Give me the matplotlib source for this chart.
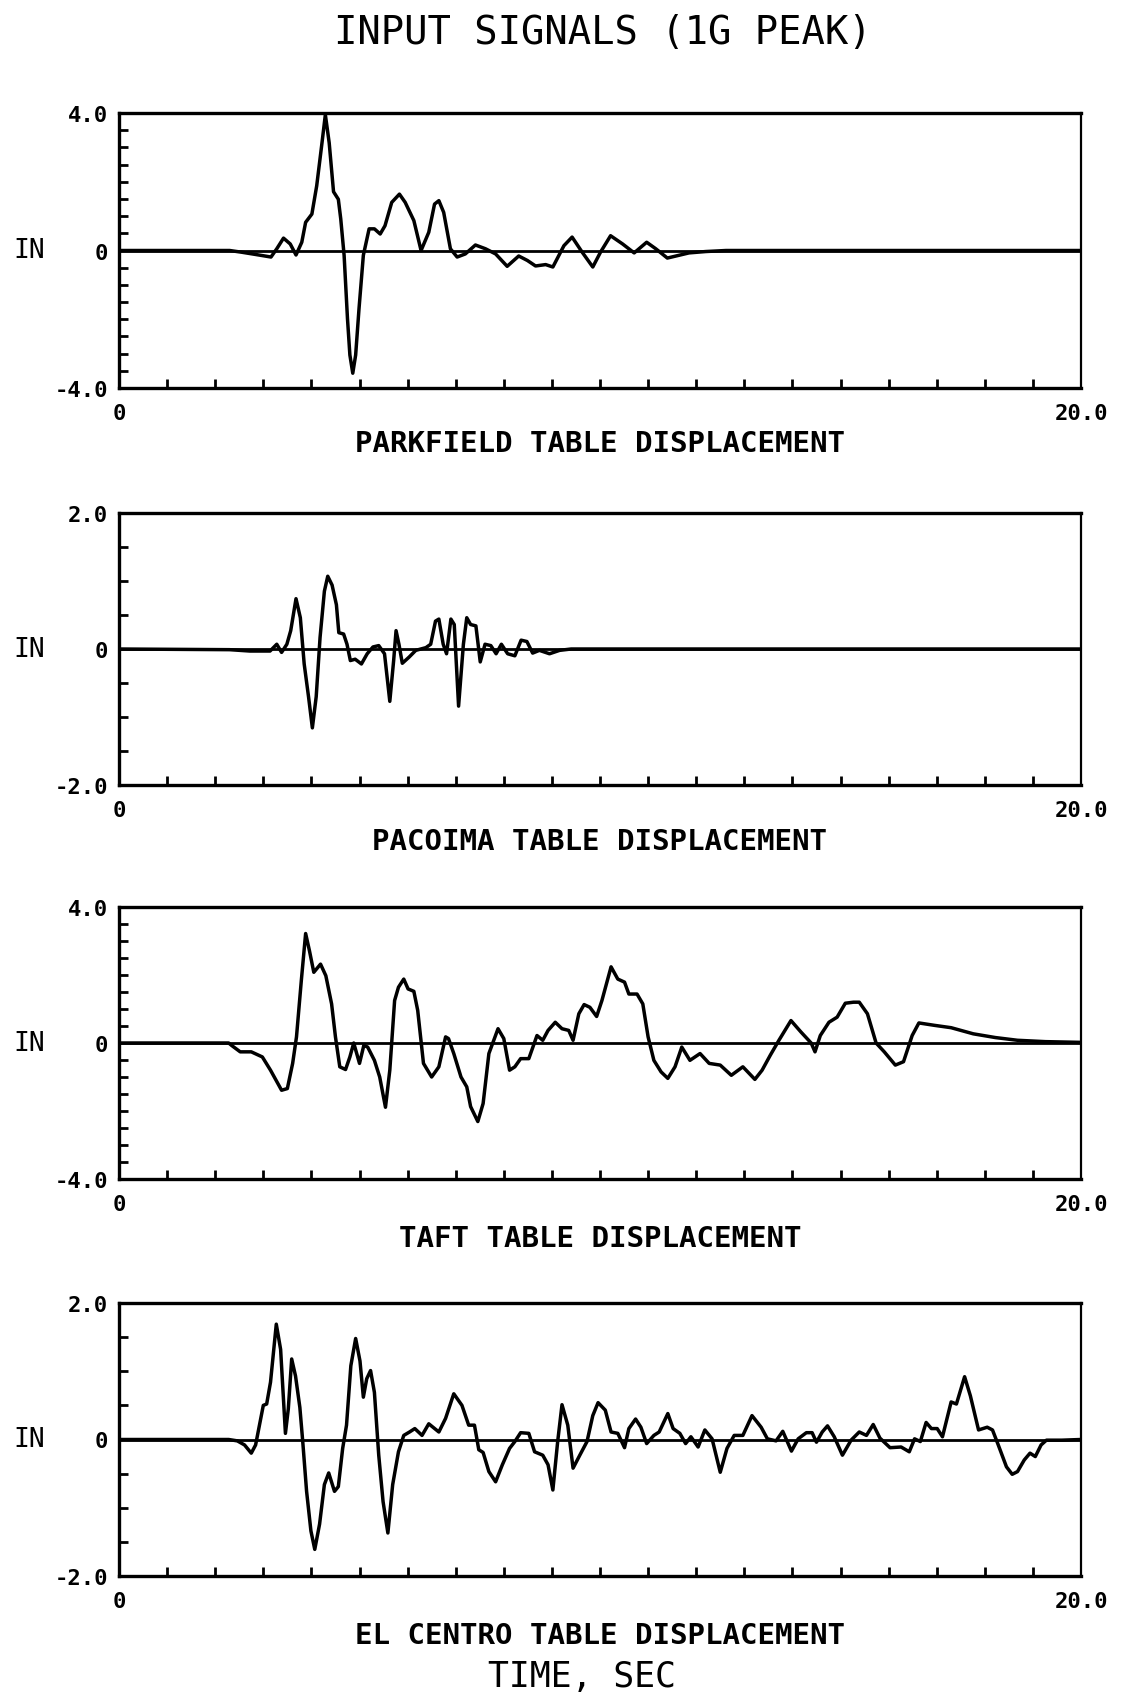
import numpy as np
import matplotlib
matplotlib.use('Agg')
from matplotlib import pyplot as plt
from matplotlib.transforms import blended_transform_factory

plt.rcParams['font.family'] = ['DejaVu Sans Mono']

# table displacement records, time in sec, displacement in inches
parkfield_t = [0.0, 2.30, 2.55, 2.86, 3.16, 3.28, 3.42, 3.56, 3.68, 3.80, 3.88, 4.01, 4.11, 4.22,
               4.29, 4.37, 4.46, 4.56, 4.61, 4.68, 4.75, 4.80, 4.86, 4.92, 4.99, 5.08, 5.20, 5.31,
               5.43, 5.53, 5.67, 5.83, 5.95, 6.13, 6.28, 6.44, 6.56, 6.65, 6.75, 6.89, 7.03, 7.20,
               7.41, 7.62, 7.83, 8.07, 8.31, 8.49, 8.66, 8.87, 9.02, 9.25, 9.42, 9.63, 9.85, 10.01,
               10.22, 10.47, 10.71, 10.97, 11.16, 11.40, 11.58, 11.85, 12.20, 12.62, 20.0]
parkfield_in = [0.0, 0.0, -0.05, -0.12, -0.19, 0.05, 0.36, 0.19, -0.13, 0.24, 0.82, 1.06, 1.88, 3.13,
                3.95, 3.13, 1.71, 1.49, 0.92, -0.14, -1.98, -3.04, -3.57, -3.04, -1.69, -0.14, 0.63, 0.63,
                0.48, 0.72, 1.40, 1.64, 1.40, 0.87, 0.0, 0.53, 1.35, 1.45, 1.11, 0.05, -0.19, -0.10,
                0.16, 0.05, -0.10, -0.46, -0.16, -0.29, -0.45, -0.41, -0.48, 0.14, 0.39, -0.05, -0.48, -0.05,
                0.43, 0.19, -0.07, 0.24, 0.05, -0.22, -0.16, -0.07, -0.03, 0.0, 0.0]

pacoima_t = [0.0, 2.30, 2.72, 3.14, 3.28, 3.38, 3.49, 3.57, 3.68, 3.77, 3.85, 3.94, 4.02, 4.10,
             4.18, 4.27, 4.34, 4.43, 4.52, 4.57, 4.67, 4.74, 4.81, 4.91, 5.04, 5.16, 5.28, 5.40,
             5.52, 5.63, 5.71, 5.76, 5.82, 5.89, 6.03, 6.17, 6.38, 6.48, 6.58, 6.65, 6.74, 6.81,
             6.90, 6.97, 7.06, 7.16, 7.23, 7.31, 7.42, 7.51, 7.61, 7.73, 7.84, 7.95, 8.08, 8.23,
             8.36, 8.48, 8.60, 8.74, 8.95, 9.16, 9.40, 20.0]
pacoima_in = [0.0, -0.01, -0.03, -0.03, 0.07, -0.05, 0.07, 0.27, 0.74, 0.46, -0.22, -0.70, -1.16, -0.70,
              0.17, 0.85, 1.07, 0.94, 0.65, 0.24, 0.22, 0.07, -0.17, -0.15, -0.22, -0.07, 0.03, 0.05,
              -0.07, -0.77, -0.17, 0.27, 0.07, -0.21, -0.12, -0.02, 0.02, 0.07, 0.41, 0.44, 0.07, -0.07,
              0.44, 0.36, -0.84, 0.07, 0.46, 0.36, 0.34, -0.19, 0.07, 0.05, -0.07, 0.07, -0.07, -0.10,
              0.13, 0.11, -0.06, -0.02, -0.07, -0.02, 0.0, 0.0]

taft_t = [0.0, 2.28, 2.34, 2.52, 2.75, 2.98, 3.15, 3.38, 3.50, 3.61, 3.69, 3.79, 3.88, 3.96,
          4.05, 4.19, 4.30, 4.42, 4.50, 4.59, 4.71, 4.80, 4.88, 5.00, 5.09, 5.17, 5.31, 5.42,
          5.54, 5.63, 5.73, 5.81, 5.92, 6.01, 6.13, 6.21, 6.33, 6.50, 6.65, 6.79, 6.85, 6.96,
          7.11, 7.23, 7.31, 7.46, 7.57, 7.69, 7.88, 8.00, 8.12, 8.23, 8.35, 8.52, 8.69, 8.81,
          8.92, 9.07, 9.21, 9.35, 9.44, 9.56, 9.67, 9.79, 9.93, 10.04, 10.23, 10.37, 10.51, 10.60,
          10.77, 10.89, 11.00, 11.12, 11.27, 11.41, 11.56, 11.70, 11.87, 12.08, 12.27, 12.50, 12.73, 12.97,
          13.22, 13.37, 13.54, 13.72, 13.97, 14.18, 14.39, 14.47, 14.58, 14.76, 14.93, 15.10, 15.27, 15.39,
          15.56, 15.74, 15.91, 16.14, 16.31, 16.49, 16.63, 16.95, 17.30, 17.76, 18.22, 18.68, 19.26, 19.95]
taft_in = [0.0, 0.0, -0.07, -0.26, -0.26, -0.41, -0.80, -1.39, -1.34, -0.60, 0.18, 1.83, 3.22, 2.71,
           2.08, 2.32, 1.98, 1.15, 0.18, -0.70, -0.78, -0.41, 0.0, -0.60, -0.07, -0.12, -0.51, -1.00,
           -1.89, -0.80, 1.25, 1.64, 1.88, 1.59, 1.52, 0.96, -0.60, -1.00, -0.70, 0.18, 0.13, -0.31,
           -1.00, -1.29, -1.87, -2.31, -1.78, -0.31, 0.42, 0.13, -0.80, -0.70, -0.46, -0.46, 0.22, 0.08,
           0.37, 0.61, 0.42, 0.37, 0.08, 0.86, 1.13, 1.05, 0.78, 1.25, 2.24, 1.88, 1.79, 1.44,
           1.44, 1.15, 0.18, -0.51, -0.85, -1.04, -0.70, -0.12, -0.51, -0.31, -0.60, -0.65, -0.95, -0.70,
           -1.07, -0.80, -0.36, 0.08, 0.66, 0.32, 0.0, -0.26, 0.22, 0.61, 0.76, 1.17, 1.20, 1.20,
           0.86, 0.0, -0.26, -0.65, -0.55, 0.22, 0.59, 0.52, 0.45, 0.27, 0.16, 0.08, 0.04, 0.02]

elcentro_t = [0.0, 2.28, 2.46, 2.61, 2.75, 2.84, 2.92, 3.00, 3.07, 3.15, 3.27, 3.36, 3.46, 3.52,
              3.59, 3.67, 3.76, 3.82, 3.90, 3.99, 4.07, 4.17, 4.27, 4.36, 4.48, 4.56, 4.65, 4.73,
              4.82, 4.92, 5.01, 5.08, 5.15, 5.23, 5.31, 5.40, 5.49, 5.59, 5.69, 5.81, 5.92, 6.04,
              6.15, 6.30, 6.44, 6.65, 6.79, 6.96, 7.13, 7.27, 7.39, 7.48, 7.57, 7.69, 7.83, 7.97,
              8.12, 8.23, 8.35, 8.52, 8.64, 8.81, 8.92, 9.02, 9.12, 9.21, 9.33, 9.44, 9.58, 9.73,
              9.85, 9.96, 10.11, 10.23, 10.37, 10.51, 10.60, 10.74, 10.85, 10.97, 11.12, 11.23, 11.41, 11.52,
              11.66, 11.78, 11.89, 12.04, 12.18, 12.33, 12.50, 12.64, 12.79, 12.97, 13.16, 13.35, 13.48, 13.66,
              13.80, 13.98, 14.12, 14.29, 14.41, 14.50, 14.62, 14.73, 14.87, 15.04, 15.22, 15.39, 15.54, 15.68,
              15.82, 16.03, 16.26, 16.43, 16.54, 16.66, 16.78, 16.89, 17.01, 17.12, 17.30, 17.41, 17.58, 17.70,
              17.87, 18.05, 18.16, 18.28, 18.45, 18.57, 18.68, 18.82, 18.94, 19.05, 19.17, 19.28, 19.60, 20.0]
elcentro_in = [0.0, 0.0, -0.02, -0.08, -0.20, -0.08, 0.21, 0.50, 0.52, 0.84, 1.69, 1.32, 0.09, 0.45,
               1.18, 0.93, 0.47, -0.03, -0.76, -1.34, -1.61, -1.24, -0.66, -0.49, -0.76, -0.69, -0.13, 0.21,
               1.08, 1.48, 1.15, 0.62, 0.89, 1.01, 0.69, -0.23, -0.91, -1.37, -0.66, -0.18, 0.06, 0.11,
               0.16, 0.06, 0.23, 0.11, 0.31, 0.67, 0.50, 0.21, 0.21, -0.15, -0.19, -0.47, -0.62, -0.37,
               -0.13, -0.03, 0.10, 0.09, -0.18, -0.23, -0.37, -0.74, -0.03, 0.51, 0.21, -0.42, -0.23, -0.03,
               0.35, 0.54, 0.43, 0.11, 0.09, -0.12, 0.16, 0.30, 0.18, -0.06, 0.06, 0.11, 0.38, 0.16,
               0.09, -0.06, 0.04, -0.11, 0.14, 0.01, -0.48, -0.13, 0.06, 0.06, 0.35, 0.18, 0.01, -0.02,
               0.12, -0.17, 0.01, 0.10, 0.10, -0.04, 0.11, 0.20, 0.04, -0.23, -0.01, 0.11, 0.06, 0.22,
               0.02, -0.12, -0.11, -0.18, 0.01, -0.03, 0.25, 0.16, 0.16, 0.04, 0.55, 0.52, 0.92, 0.64,
               0.14, 0.18, 0.14, -0.08, -0.40, -0.51, -0.47, -0.30, -0.20, -0.25, -0.08, -0.01, -0.01, 0.0]

names = ['PARKFIELD TABLE DISPLACEMENT', 'PACOIMA TABLE DISPLACEMENT',
         'TAFT TABLE DISPLACEMENT', 'EL CENTRO TABLE DISPLACEMENT']
limits = [4.0, 2.0, 4.0, 2.0]

W, H = 1135, 1699
fig = plt.figure(figsize=(W / 100, H / 100), dpi=100)

# (top, bottom, caption y) in pixels from the top of the sheet
frames = [(114, 389, 444), (514, 786, 842), (908, 1180, 1239), (1304, 1577, 1636)]
records = [(parkfield_t, parkfield_in), (pacoima_t, pacoima_in),
           (taft_t, taft_in), (elcentro_t, elcentro_in)]

left, right = 119, 1081
for (t, d), lim, name, (top, bot, cap) in zip(records, limits, names, frames):
    ax = fig.add_axes([left / W, 1 - bot / H, (right - left) / W, (bot - top) / H])
    ax.axhline(0, color='black', lw=2.0, zorder=2)
    ax.plot(t, d, color='black', lw=2.5, solid_joinstyle='round', zorder=3)
    ax.set_xlim(0, 20)
    ax.set_ylim(-lim, lim)

    ax.set_xticks([0, 20])
    ax.set_xticklabels(['0', '20.0'])
    ax.set_xticks(np.arange(1, 20), minor=True)
    ax.set_yticks([-lim, 0, lim])
    ax.set_yticklabels(['-%.1f' % lim, '0', '%.1f' % lim])
    ax.set_yticks(np.arange(-lim, lim + 0.01, 0.5), minor=True)

    ax.tick_params(axis='x', which='major', length=0, pad=11, labelsize=16)
    ax.tick_params(axis='y', which='major', length=0, pad=8, labelsize=16)
    ax.tick_params(which='minor', direction='in', length=6.5, width=2.0, color='black')
    for lbl in ax.get_xticklabels() + ax.get_yticklabels():
        lbl.set_fontweight('bold')

    for side in ['top', 'left', 'bottom']:
        ax.spines[side].set_linewidth(2.4)
    ax.spines['right'].set_linewidth(1.6)

    trans = blended_transform_factory(fig.transFigure, ax.transData)
    ax.text(29 / W, 0, 'IN', transform=trans, ha='center', va='center', fontsize=19)

    fig.text(600 / W, 1 - cap / H, name, ha='center', va='center',
             fontsize=21, fontweight='bold')

fig.text(603 / W, 1 - 33 / H, 'INPUT SIGNALS (1G PEAK)', ha='center', va='center', fontsize=28)
fig.text(582 / W, 1 - 1677 / H, 'TIME, SEC', ha='center', va='center', fontsize=25)

fig.savefig('out.png', dpi=100, facecolor='white')
